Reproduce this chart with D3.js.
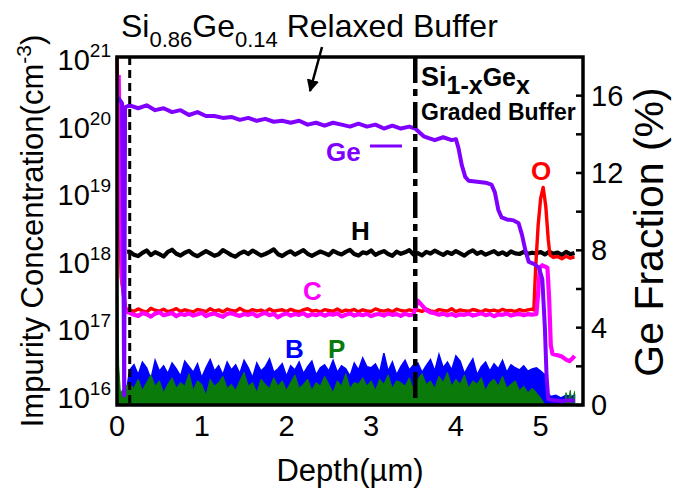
<!DOCTYPE html>
<html><head><meta charset="utf-8">
<script src="https://cdn.jsdelivr.net/npm/d3@7"></script>
<style>
body{margin:0;background:#fff}
svg{display:block}
text{font-family:"Liberation Sans",Arial,Helvetica,sans-serif}
</style>
</head><body>
<svg id="chart" width="674" height="488"></svg>
<script>
// ---------------- DATA ----------------
// common depth grid (µm) for the noisy bulk region
const depthGrid = [0.15,0.20,0.25,0.30,0.35,0.40,0.45,0.50,0.55,0.60,0.65,0.70,0.75,0.80,0.85,0.90,0.95,1.00,1.05,1.10,
1.15,1.20,1.25,1.30,1.35,1.40,1.45,1.50,1.55,1.60,1.65,1.70,1.75,1.80,1.85,1.90,1.95,2.00,2.05,2.10,
2.15,2.20,2.25,2.30,2.35,2.40,2.45,2.50,2.55,2.60,2.65,2.70,2.75,2.80,2.85,2.90,2.95,3.00,3.05,3.10,
3.15,3.20,3.25,3.30,3.35,3.40,3.45,3.50,3.55,3.60,3.65,3.70,3.75,3.80,3.85,3.90,3.95,4.00,4.05,4.10,
4.15,4.20,4.25,4.30,4.35,4.40,4.45,4.50,4.55,4.60,4.65,4.70,4.75,4.80,4.85,4.90];

// H (cm^-3) on depthGrid
const hConc = [1.46e18,1.32e18,1.26e18,1.40e18,1.52e18,1.30e18,1.44e18,1.34e18,1.24e18,1.45e18,1.56e18,1.36e18,1.28e18,1.41e18,1.50e18,1.33e18,1.25e18,1.37e18,1.49e18,1.38e18,
1.27e18,1.34e18,1.54e18,1.42e18,1.30e18,1.23e18,1.38e18,1.47e18,1.35e18,1.52e18,1.40e18,1.28e18,1.35e18,1.45e18,1.58e18,1.34e18,1.26e18,1.39e18,1.48e18,1.32e18,
1.43e18,1.54e18,1.36e18,1.27e18,1.37e18,1.47e18,1.39e18,1.30e18,1.50e18,1.40e18,1.33e18,1.45e18,1.55e18,1.35e18,1.28e18,1.43e18,1.38e18,1.52e18,1.31e18,1.41e18,
1.49e18,1.35e18,1.27e18,1.46e18,1.36e18,1.43e18,1.54e18,1.33e18,1.39e18,1.29e18,1.45e18,1.37e18,1.51e18,1.40e18,1.31e18,1.44e18,1.35e18,1.49e18,1.38e18,1.28e18,
1.43e18,1.53e18,1.36e18,1.45e18,1.32e18,1.40e18,1.49e18,1.34e18,1.43e18,1.31e18,1.47e18,1.38e18,1.35e18,1.45e18,1.36e18,1.41e18];
const hHead = [[0.12,1.45e18]];
const hTail = [[4.95,1.38e18],[5.00,1.44e18],[5.05,1.33e18],[5.10,1.46e18],[5.15,1.36e18],[5.20,1.42e18],[5.25,1.31e18],[5.30,1.45e18],[5.35,1.34e18],[5.40,1.40e18]];

// O (cm^-3)
const oConc = [2.02e17,1.92e17,2.08e17,1.95e17,1.87e17,2.12e17,1.99e17,1.93e17,2.06e17,1.89e17,1.97e17,2.10e17,1.91e17,2.02e17,1.94e17,1.88e17,2.04e17,1.98e17,1.90e17,2.09e17,
1.93e17,2.01e17,1.88e17,2.07e17,1.97e17,1.92e17,2.12e17,1.95e17,1.89e17,2.03e17,1.94e17,2.00e17,1.88e17,2.08e17,1.92e17,1.98e17,2.02e17,1.90e17,2.05e17,1.95e17,
1.89e17,2.01e17,2.09e17,1.93e17,1.98e17,1.87e17,2.03e17,1.97e17,1.92e17,2.07e17,1.90e17,2.00e17,1.95e17,2.04e17,1.88e17,2.02e17,1.94e17,1.91e17,2.08e17,1.98e17,
1.93e17,2.01e17,1.89e17,2.06e17,1.97e17,1.92e17,2.02e17,1.94e17,2.00e17,1.91e17,2.07e17,1.95e17,1.89e17,2.03e17,1.98e17,1.93e17,2.09e17,1.90e17,2.01e17,1.95e17,
1.92e17,2.04e17,1.97e17,1.88e17,2.02e17,1.94e17,2.00e17,1.91e17,2.05e17,1.95e17,1.98e17,1.90e17,2.03e17,1.94e17,2.01e17,2.06e17];
const oHead = [[0.0,1.1e21],[0.01,3e20],[0.025,8e18],[0.05,6e17],[0.10,2.1e17]];
const oTail = [[4.92,2.0e17],[4.94,8e17],[4.97,3.5e18],[5.00,9e18],[5.03,1.3e19],[5.06,7e18],[5.09,2.2e18],[5.11,1.3e18],[5.15,1.2e18],[5.20,1.24e18],[5.25,1.15e18],[5.30,1.25e18],[5.35,1.17e18],[5.40,1.22e18]];

// C (cm^-3)
const cConc = [1.82e17,1.70e17,1.64e17,1.80e17,1.74e17,1.60e17,1.77e17,1.85e17,1.68e17,1.73e17,1.81e17,1.62e17,1.76e17,1.69e17,1.79e17,1.66e17,1.74e17,1.83e17,1.63e17,1.73e17,
1.78e17,1.68e17,1.59e17,1.76e17,1.80e17,1.71e17,1.64e17,1.75e17,1.70e17,1.79e17,1.62e17,1.73e17,1.82e17,1.68e17,1.76e17,1.56e17,1.71e17,1.78e17,1.66e17,1.75e17,
1.70e17,1.80e17,1.63e17,1.73e17,1.68e17,1.77e17,1.65e17,1.75e17,1.71e17,1.79e17,1.61e17,1.70e17,1.78e17,1.66e17,1.74e17,1.68e17,1.76e17,1.63e17,1.72e17,1.75e17,
1.66e17,1.78e17,1.70e17,1.74e17,1.64e17,1.77e17,1.68e17,1.72e17,2.75e17,2.35e17,2.00e17,1.85e17,1.79e17,1.71e17,1.77e17,1.68e17,1.75e17,1.64e17,1.73e17,1.70e17,
1.77e17,1.66e17,1.72e17,1.79e17,1.68e17,1.75e17,1.62e17,1.73e17,1.70e17,1.78e17,1.66e17,1.72e17,1.76e17,1.68e17,1.74e17,1.71e17];
const cHead = [[0.02,6e20],[0.035,2e19],[0.06,6e17],[0.10,1.9e17]];
const cTail = [[4.95,1.75e17],[4.97,3.5e17],[4.99,8.5e17],[5.02,9.2e17],[5.05,8.8e17],[5.08,8.5e17],[5.10,3e17],[5.12,6e16],[5.14,4.5e16],[5.20,4.3e16],[5.25,4.1e16],[5.30,3.7e16],[5.34,3.5e16],[5.38,3.9e16],[5.40,4.2e16]];

// B (cm^-3)
const bConc = [2.6e16,3.1e16,2.2e16,3.4e16,2.8e16,1.9e16,3.6e16,2.5e16,3.0e16,2.3e16,3.3e16,2.7e16,2.1e16,3.5e16,2.9e16,2.4e16,3.2e16,2.0e16,2.8e16,3.7e16,
2.5e16,3.0e16,2.2e16,3.4e16,2.6e16,3.1e16,2.3e16,3.6e16,2.8e16,2.0e16,3.3e16,2.5e16,2.9e16,3.8e16,2.4e16,2.7e16,3.2e16,2.1e16,3.0e16,2.6e16,
3.4e16,2.3e16,2.9e16,3.5e16,2.2e16,2.8e16,3.1e16,2.5e16,3.6e16,2.4e16,3.0e16,2.7e16,2.1e16,3.3e16,2.6e16,3.9e16,2.9e16,2.8e16,3.2e16,2.4e16,
4.6e16,2.5e16,3.4e16,2.2e16,2.9e16,3.6e16,2.6e16,3.1e16,3.3e16,2.4e16,3.0e16,3.7e16,2.5e16,4.4e16,2.8e16,3.4e16,2.6e16,4.2e16,3.5e16,2.3e16,
3.0e16,3.8e16,2.2e16,2.9e16,3.4e16,2.5e16,3.2e16,2.7e16,3.6e16,2.4e16,3.1e16,2.8e16,2.6e16,3.0e16,2.5e16,2.7e16];
const bHead = [[0.12,1.5e16]];
const bTail = [[4.95,2.8e16],[5.00,2.5e16],[5.05,2.2e16],[5.08,1.2e16],[5.12,1.05e16],[5.18,1.1e16],[5.24,1.0e16],[5.30,1.1e16],[5.36,1.05e16],[5.40,1.1e16]];

// P (cm^-3)
const pConc = [1.6e16,1.4e16,1.9e16,1.3e16,1.7e16,2.2e16,1.5e16,1.8e16,1.2e16,1.6e16,2.0e16,1.4e16,1.7e16,1.5e16,2.3e16,1.3e16,1.8e16,1.6e16,1.1e16,1.9e16,
1.5e16,1.7e16,2.1e16,1.4e16,1.6e16,1.3e16,1.8e16,2.4e16,1.5e16,1.7e16,1.2e16,1.9e16,1.6e16,1.4e16,2.0e16,1.5e16,1.8e16,1.3e16,1.7e16,2.2e16,
1.4e16,1.6e16,1.9e16,1.3e16,1.7e16,1.5e16,2.1e16,1.6e16,1.2e16,1.8e16,1.5e16,2.3e16,1.4e16,1.7e16,1.6e16,2.0e16,1.5e16,1.8e16,1.3e16,1.9e16,
1.6e16,2.2e16,1.4e16,1.8e16,1.7e16,1.5e16,2.0e16,1.3e16,1.9e16,2.3e16,1.6e16,1.8e16,1.4e16,2.1e16,1.7e16,2.4e16,1.5e16,1.9e16,1.6e16,2.2e16,
1.4e16,1.8e16,1.6e16,2.0e16,1.3e16,1.7e16,1.9e16,1.5e16,2.1e16,1.4e16,1.6e16,1.8e16,1.3e16,1.5e16,1.2e16,1.4e16];
const pHead = [[0.0,1.6e18],[0.01,3e17],[0.02,3e16],[0.04,1.2e16],[0.10,1.5e16]];
const pTail = [[4.95,1.2e16],[5.00,1.0e16],[5.05,8e15],[5.10,7e15],[5.20,7e15],[5.28,7.5e15],[5.30,1.2e16],[5.32,8e15],[5.35,1.3e16],[5.37,8e15],[5.40,1.25e16]];

// Ge fraction (%) vs depth (µm)
const geFraction = [[0.005,15.9],[0.03,15.8],[0.06,15.6],[0.075,8],[0.085,0.5],[0.095,15.4],[0.15,15.5],[0.25,15.35],[0.35,15.5],[0.45,15.25],[0.55,15.35],[0.65,15.15],[0.75,15.25],[0.85,15.0],[0.95,15.15],[1.05,14.95],[1.15,14.95],[1.25,14.85],[1.35,14.9],[1.45,14.75],[1.55,14.85],[1.65,14.7],[1.75,14.8],[1.85,14.65],[1.95,14.7],[2.05,14.6],[2.15,14.7],[2.25,14.5],[2.35,14.6],[2.45,14.45],[2.55,14.6],[2.65,14.5],[2.75,14.4],[2.85,14.55],[2.95,14.4],[3.05,14.5],[3.15,14.3],[3.25,14.45],[3.35,14.3],[3.45,14.4],[3.52,14.3],[3.57,14.1],[3.62,13.9],[3.68,13.8],[3.75,13.7],[3.85,13.85],[3.95,13.7],[4.00,13.75],[4.03,13.3],[4.07,12.4],[4.11,11.8],[4.15,11.6],[4.25,11.55],[4.35,11.5],[4.42,11.4],[4.46,11.0],[4.50,10.1],[4.54,9.7],[4.60,9.6],[4.68,9.55],[4.74,9.4],[4.78,8.8],[4.82,8.0],[4.86,7.4],[4.92,7.3],[4.98,7.1],[5.02,6.5],[5.05,4.0],[5.07,1.5],[5.09,0.3],[5.15,0.25],[5.25,0.2],[5.35,0.25],[5.40,0.2]];

// axes
const xTicks = [0,1,2,3,4,5];
const yLeftTicks = [1e16,1e17,1e18,1e19,1e20,1e21];
const yLeftExp = ["16","17","18","19","20","21"];
const yRightTicks = [0,2,4,6,8,10,12,14,16];
const yRightLabels = [0,4,8,12,16];
const interfaceDepths = [0.15, 3.52];

// ---------------- DRAW ----------------
const svg = d3.select("#chart");
const L = 117, R = 583, T = 57, B = 405;
const x = d3.scaleLinear().domain([0,5.5]).range([L,R]);
const yL = d3.scaleLog().domain([7.88e15,1.108e21]).range([B,T]).clamp(true);
const yR = d3.scaleLinear().domain([0,18]).range([B,T]);

const build = (head, vals, tail) => head.concat(depthGrid.map((d,i)=>[d, vals[i]]), tail);
const hData = build(hHead, hConc, hTail);
const oData = build(oHead, oConc, oTail);
const cData = build(cHead, cConc, cTail);
const bData = build(bHead, bConc, bTail);
const pData = build(pHead, pConc, pTail);

const lineL = d3.line().x(d=>x(d[0])).y(d=>yL(d[1]));
const areaL = d3.area().x(d=>x(d[0])).y0(B).y1(d=>yL(d[1]));
const lineR = d3.line().x(d=>x(d[0])).y(d=>yR(d[1]));

const g = svg.append("g");
g.append("path").attr("d", lineL(hData)).attr("fill","none").attr("stroke","#000").attr("stroke-width",4.2).attr("stroke-linejoin","round");
g.append("path").attr("d", lineL(oData)).attr("fill","none").attr("stroke","#ff0000").attr("stroke-width",3.4).attr("stroke-linejoin","round");
g.append("path").attr("d", lineL(cData)).attr("fill","none").attr("stroke","#ff00ff").attr("stroke-width",4.2).attr("stroke-linejoin","round");
g.append("path").attr("d", areaL(bData)).attr("fill","#0000ff").attr("stroke","#0000ff").attr("stroke-width",1.5);
g.append("path").attr("d", areaL(pData)).attr("fill","#0a7a0a").attr("stroke","#0a7a0a").attr("stroke-width",1);
g.append("path").attr("d", lineR(geFraction)).attr("fill","none").attr("stroke","#7f00ff").attr("stroke-width",4).attr("stroke-linejoin","round");

// frame
svg.append("rect").attr("x",L).attr("y",T).attr("width",R-L).attr("height",B-T)
  .attr("fill","none").attr("stroke","#000").attr("stroke-width",3.5);

// interface lines
svg.append("line").attr("x1",x(interfaceDepths[0])).attr("x2",x(interfaceDepths[0])).attr("y1",T).attr("y2",B)
  .attr("stroke","#000").attr("stroke-width",3).attr("stroke-dasharray","8,5");
svg.append("line").attr("x1",x(interfaceDepths[1])).attr("x2",x(interfaceDepths[1])).attr("y1",T).attr("y2",B)
  .attr("stroke","#000").attr("stroke-width",4.5).attr("stroke-dasharray","26,6,7,6");

// right ticks
svg.selectAll(".rt").data(yRightTicks).join("line")
  .attr("x1",R-7).attr("x2",R).attr("y1",d=>yR(d)).attr("y2",d=>yR(d))
  .attr("stroke","#000").attr("stroke-width",2.5);
svg.selectAll(".rl").data(yRightLabels).join("text")
  .attr("x",591).attr("y",d=>yR(d)+10).attr("font-size",29).attr("fill","#000").text(d=>d);

// x tick labels
svg.selectAll(".xl").data(xTicks).join("text")
  .attr("x",d=>x(d)).attr("y",436).attr("text-anchor","middle").attr("font-size",29).text(d=>d);

// left tick labels
const ll = svg.selectAll(".ll").data(yLeftTicks).join("text")
  .attr("x",111).attr("y",d=>yL(d)+10).attr("text-anchor","end").attr("font-size",29);
ll.append("tspan").text("10");
ll.append("tspan").attr("dy",-13).attr("font-size",19).text((d,i)=>yLeftExp[i]);

// axis titles
const lt = svg.append("text").attr("transform","translate(43,231) rotate(-90)").attr("text-anchor","middle").attr("font-size",31);
lt.append("tspan").text("Impurity Concentration(cm");
lt.append("tspan").attr("dy",-12).attr("font-size",21).text("-3");
lt.append("tspan").attr("dy",12).text(")");

svg.append("text").attr("transform","translate(663,232) rotate(-90)").attr("text-anchor","middle")
  .attr("font-size",41).text("Ge Fraction (%)");

svg.append("text").attr("x",350).attr("y",481).attr("text-anchor","middle").attr("font-size",31).text("Depth(\u00b5m)");

// title
const tt = svg.append("text").attr("x",121).attr("y",37).attr("font-size",32);
tt.append("tspan").text("Si");
tt.append("tspan").attr("dy",10).attr("font-size",22).text("0.86");
tt.append("tspan").attr("dy",-10).text("Ge");
tt.append("tspan").attr("dy",10).attr("font-size",22).text("0.14");
tt.append("tspan").attr("dy",-10).text(" Relaxed Buffer");

// arrow
svg.append("defs").append("marker").attr("id","ah").attr("viewBox","0 0 10 10").attr("refX",9).attr("refY",5)
  .attr("markerWidth",5).attr("markerHeight",5).attr("orient","auto")
  .append("path").attr("d","M0,0 L10,5 L0,10 z").attr("fill","#000");
svg.append("line").attr("x1",322).attr("y1",47).attr("x2",310).attr("y2",91)
  .attr("stroke","#000").attr("stroke-width",2.5).attr("marker-end","url(#ah)");

// graded buffer label
const gb = svg.append("text").attr("x",421).attr("y",86).attr("font-size",27).attr("font-weight","bold");
gb.append("tspan").text("Si");
gb.append("tspan").attr("dy",8).attr("font-size",25).text("1-x");
gb.append("tspan").attr("dy",-8).attr("font-size",25).text("Ge");
gb.append("tspan").attr("dy",8).attr("font-size",25).text("x");
svg.append("text").attr("x",421).attr("y",120).attr("font-size",23).attr("font-weight","bold").text("Graded Buffer");

// series labels
const lab = (t,xx,yy,c)=>svg.append("text").attr("x",xx).attr("y",yy).attr("font-size",26).attr("font-weight","bold").attr("fill",c).text(t);
lab("Ge",326,161,"#7f00ff");
svg.append("line").attr("x1",370).attr("x2",402).attr("y1",146).attr("y2",146).attr("stroke","#7f00ff").attr("stroke-width",3);
lab("H",351,240,"#000");
lab("O",531,180,"#ff0000");
lab("C",303,300,"#ff00ff");
lab("B",285,358,"#0000ff");
lab("P",328,358,"#0a7a0a");
</script>
</body></html>
